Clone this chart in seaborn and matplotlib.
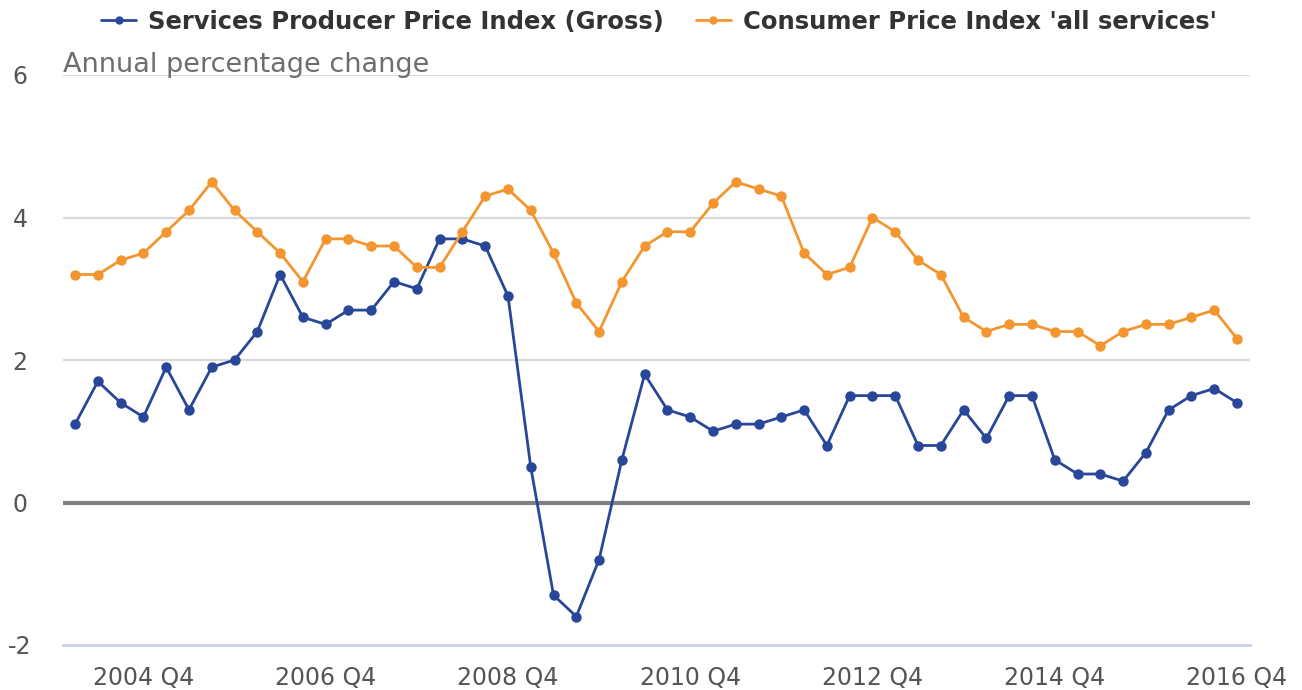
import matplotlib
matplotlib.use("Agg")
import matplotlib.pyplot as plt
import pandas as pd
import seaborn as sns

# quarters 2004 Q1 .. 2016 Q4
quarters = [f"{y} Q{q}" for y in range(2004, 2017) for q in range(1, 5)]

sppi = [1.1, 1.7, 1.4, 1.2, 1.9, 1.3, 1.9, 2.0, 2.4, 3.2, 2.6, 2.5, 2.7, 2.7, 3.1, 3.0,
        3.7, 3.7, 3.6, 2.9, 0.5, -1.3, -1.6, -0.8, 0.6, 1.8, 1.3, 1.2, 1.0, 1.1, 1.1, 1.2,
        1.3, 0.8, 1.5, 1.5, 1.5, 0.8, 0.8, 1.3, 0.9, 1.5, 1.5, 0.6, 0.4, 0.4, 0.3, 0.7,
        1.3, 1.5, 1.6, 1.4]
cpi = [3.2, 3.2, 3.4, 3.5, 3.8, 4.1, 4.5, 4.1, 3.8, 3.5, 3.1, 3.7, 3.7, 3.6, 3.6, 3.3,
       3.3, 3.8, 4.3, 4.4, 4.1, 3.5, 2.8, 2.4, 3.1, 3.6, 3.8, 3.8, 4.2, 4.5, 4.4, 4.3,
       3.5, 3.2, 3.3, 4.0, 3.8, 3.4, 3.2, 2.6, 2.4, 2.5, 2.5, 2.4, 2.4, 2.2, 2.4, 2.5,
       2.5, 2.6, 2.7, 2.3]
series_names = ["Services Producer Price Index (Gross)", "Consumer Price Index 'all services'"]
colors = ["#284799", "#f4962f"]

df = pd.concat([
    pd.DataFrame({"idx": range(len(quarters)), "value": sppi, "series": series_names[0]}),
    pd.DataFrame({"idx": range(len(quarters)), "value": cpi, "series": series_names[1]}),
])

sns.set_style("white")
plt.rcParams['font.family'] = ['DejaVu Sans']

fig = plt.figure(figsize=(13.02, 6.9), dpi=100)
ax = fig.add_axes([63 / 1302, 1 - 645 / 690, (1250 - 63) / 1302, (645 - 75) / 690])

for y in [2, 4, 6]:
    ax.axhline(y, color="#d9d9d9", lw=1.6, zorder=0)
ax.axhline(0, color="#808080", lw=3, zorder=1)

sns.lineplot(data=df, x="idx", y="value", hue="series", palette=colors,
             marker="o", markersize=7.5, markeredgewidth=0, linewidth=2, ax=ax, zorder=3)

ax.set_xlim(-0.53, 51.57)
ax.set_ylim(-2, 6)
ax.set_yticks([-2, 0, 2, 4, 6])
ax.set_yticklabels(["-2", "0", "2", "4", "6"])
tick_idx = list(range(3, len(quarters), 8))
ax.set_xticks(tick_idx)
ax.set_xticklabels([quarters[i] for i in tick_idx])
ax.tick_params(axis="x", length=14.5, width=1.2, color="#c8d4e3", labelsize=17,
               labelcolor="#555555", pad=0.5)
ax.tick_params(axis="y", length=0, labelsize=17, labelcolor="#555555", pad=31)
for lab in ax.get_yticklabels():
    lab.set_horizontalalignment("center")
ax.set_xlabel("")
ax.set_ylabel("")
for s in ["top", "right", "left"]:
    ax.spines[s].set_visible(False)
ax.spines["bottom"].set_color("#c8d4e3")
ax.spines["bottom"].set_linewidth(2)

fig.text(63 / 1302, 1 - 65 / 690, "Annual percentage change", fontsize=19.5,
         color="#6e6e6e", va="center", ha="left")

handles, labels = ax.get_legend_handles_labels()
ax.legend(handles, labels, loc="center", bbox_to_anchor=(0.5 + 8 / 1302, 1 - 22 / 690),
          bbox_transform=fig.transFigure, ncol=2, frameon=False,
          prop={"weight": "bold", "size": 17.5}, labelcolor="#333333",
          handlelength=1.45, handletextpad=0.5, columnspacing=1.3, markerscale=0.8)

fig.savefig("out.png", dpi=100)
